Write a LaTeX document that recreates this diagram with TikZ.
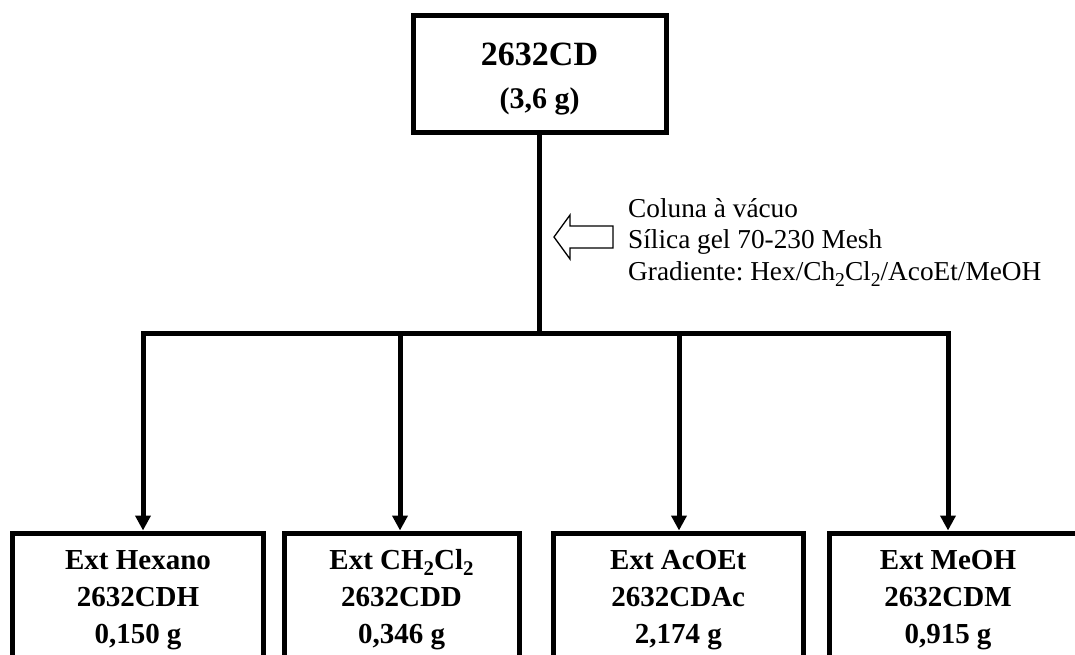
\documentclass[tikz,border=0pt]{standalone}
\usepackage{fontspec}
\setmainfont{Liberation Serif}
\usetikzlibrary{arrows.meta}
\newcommand\mysub[1]{\raisebox{-0.22em}{\scalebox{0.72}{#1}}}
\tikzset{
  boxline/.style={draw=black, line width=5pt, line join=miter},
  topbox/.style={boxline, minimum width=253pt, minimum height=116.5pt, inner sep=0pt,
    align=center, text height=68pt, text depth=0pt, font=\bfseries\fontsize{34}{43}\selectfont},
  botbox/.style={boxline, anchor=north, inner xsep=0pt, inner ysep=0pt, align=center,
    text height=110pt, text depth=24pt, font=\bfseries\fontsize{29}{37}\selectfont},
  conn/.style={draw=black, line width=5pt, line join=miter},
  tip/.style={-{Triangle[width=15pt,length=15pt]}},
  hollow/.style={draw=black, line width=1.3pt, line join=miter, fill=white},
  note/.style={anchor=north west, align=left, inner sep=0pt, text height=90pt, text depth=5pt,
    font=\frenchspacing\fontsize{27.3}{31.5}\selectfont}
}
\begin{document}
\begin{tikzpicture}[x=1pt,y=-1pt]
\useasboundingbox (0,0) rectangle (1075,654);
\clip (0,0) rectangle (1075,654);

% top box
\node[topbox] (top) at (539.5,74)
  {2632CD\\{\fontsize{30}{43}\selectfont (3,6 g)}};

% bottom boxes
\node[botbox, minimum width=251pt] (b1) at (138,530.5) {Ext Hexano\\2632CDH\\0,150 g};
\node[botbox, minimum width=235pt] (b2) at (401.5,530.5) {Ext CH\mysub{2}Cl\mysub{2}\\2632CDD\\0,346 g};
\node[botbox, minimum width=250.5pt] (b3) at (678.25,530.5) {Ext AcOEt\\2632CDAc\\2,174 g};
\node[botbox, draw=none, minimum width=238pt] (b4) at (948,530.5) {Ext MeOH\\2632CDM\\0,915 g};
\draw[boxline] ([shift={(2.5pt,-2.5pt)}]b4.north west) rectangle ++(300,150);

% connector points
\coordinate (j) at (539.5,333);
\coordinate (t1) at (143,530.5);
\coordinate (t2) at (400,530.5);
\coordinate (t3) at (679,530.5);
\coordinate (t4) at (948,530.5);

\draw[conn] (top.south) -- (j);
\draw[conn, tip] (j) -| (t1);
\draw[conn, tip] (j) -| (t2);
\draw[conn, tip] (j) -| (t3);
\draw[conn, tip] (j) -| (t4);

% hollow arrow
\draw[hollow] (554,237) -- (570,215) -- (570,226) -- (613,226) -- (613,248) -- (570,248) -- (570,259) -- cycle;

% annotation
\node[note] (txt) at (628,190) {Coluna à vácuo\\Sílica gel 70-230 Mesh\\Gradiente: Hex/Ch\mysub{2}Cl\mysub{2}/AcoEt/MeOH};
\end{tikzpicture}
\end{document}
